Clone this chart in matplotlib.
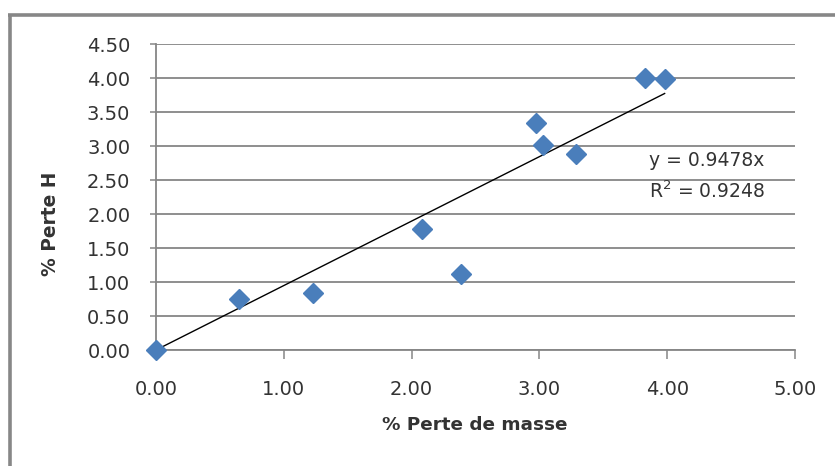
import matplotlib
matplotlib.use("Agg")
import matplotlib.pyplot as plt
from matplotlib.lines import Line2D
import numpy as np

# % mass loss vs % hydrogen loss
perte_masse = [0.00, 0.65, 1.23, 2.08, 2.39, 2.97, 3.03, 3.29, 3.83, 3.98]
perte_h = [0.00, 0.75, 0.84, 1.78, 1.12, 3.34, 3.01, 2.88, 4.00, 3.98]

# linear fit through the origin
pente = 0.9478
r2 = 0.9248

x_ticks = [0, 1, 2, 3, 4, 5]
y_ticks = [0, 0.5, 1, 1.5, 2, 2.5, 3, 3.5, 4, 4.5]

plt.rcParams["font.family"] = ["DejaVu Sans"]

W, H = 835, 466
fig = plt.figure(figsize=(W / 100, H / 100), dpi=100)
fig.patch.set_facecolor("white")

# outer chart frame: top and left edges
frame_col = "#878787"
fig.lines.append(Line2D([9.5 / W, 9.5 / W], [0, 1 - 13.5 / H],
                        transform=fig.transFigure, color=frame_col,
                        linewidth=2.6, solid_capstyle="butt"))
fig.lines.append(Line2D([8.2 / W, 1.0], [1 - 14.5 / H, 1 - 14.5 / H],
                        transform=fig.transFigure, color=frame_col,
                        linewidth=2.6, solid_capstyle="butt"))

ax = fig.add_axes([156 / W, 1 - 350 / H, (795 - 156) / W, (350 - 44) / H])
ax.set_xlim(0, 5)
ax.set_ylim(0, 4.5)
ax.set_xticks(x_ticks)
ax.set_yticks(y_ticks)
ax.set_xticklabels([f"{v:.2f}" for v in x_ticks])
ax.set_yticklabels([f"{v:.2f}" for v in y_ticks])

grid_col = "#868686"
ax.yaxis.grid(True, color=grid_col, linewidth=1.3)
ax.xaxis.grid(False)
ax.set_axisbelow(True)
for s in ["top", "right"]:
    ax.spines[s].set_visible(False)
for s in ["left", "bottom"]:
    ax.spines[s].set_color(grid_col)
    ax.spines[s].set_linewidth(1.3)

txt_col = "#333333"
ax.tick_params(axis="x", direction="out", length=6.5, width=1.1,
               color=grid_col, labelsize=14, pad=15, labelcolor=txt_col)
ax.tick_params(axis="y", direction="out", length=4.5, width=1.1,
               color=grid_col, labelsize=14, pad=14, labelcolor=txt_col)

# trendline
xt = np.array([0, max(perte_masse)])
ax.plot(xt, pente * xt, color="black", linewidth=1.0, zorder=3)

ax.plot(perte_masse, perte_h, linestyle="none", marker="D", markersize=10.5,
        markerfacecolor="#4a7ebb", markeredgecolor="#4a7ebb", zorder=4,
        clip_on=False)

ax.text(3.86, 2.78, f"y = {pente:.4f}x", fontsize=13.5, color=txt_col,
        ha="left", va="center")
ax.text(3.86, 2.33, f"R$^2$ = {r2:.4f}", fontsize=13.5, color=txt_col,
        ha="left", va="center")

fig.text(475 / W, 1 - 425 / H, "% Perte de masse", fontsize=13.2,
         fontweight="bold", ha="center", va="center", color=txt_col)
fig.text(51 / W, 1 - 224 / H, "% Perte H", fontsize=13.4, fontweight="bold",
         rotation=90, ha="center", va="center", color=txt_col)

fig.savefig("out.png", dpi=100)
